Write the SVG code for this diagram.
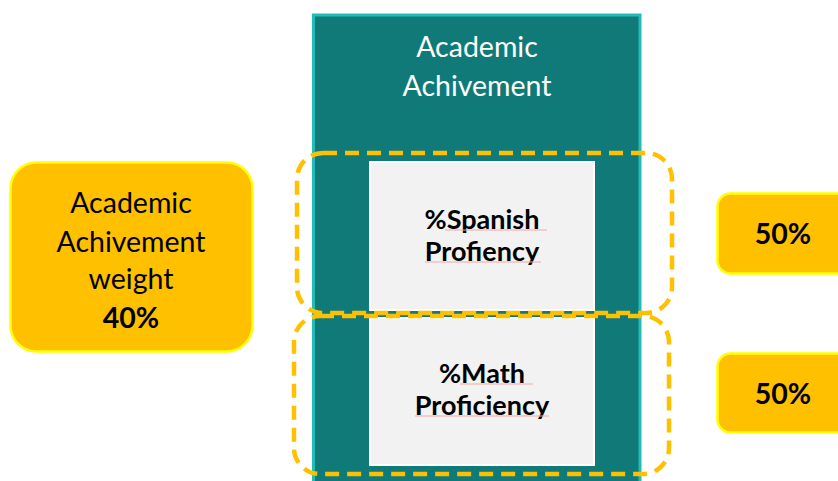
<svg xmlns="http://www.w3.org/2000/svg" width="838" height="481" viewBox="0 0 838 481">
<style>
.t{font-family:Lato,"Open Sans","Liberation Sans",sans-serif;text-anchor:middle}
.w{fill:#ffffff;font-size:28.5px}
.k{fill:#000000;font-size:28.5px}
.b{fill:#000000;font-size:27px;font-weight:bold}
.p{fill:#000000;font-size:28.5px;font-weight:bold}
.gold{fill:#ffc000;stroke:#ffff00;stroke-width:2.5}
.dash{fill:none;stroke:#ffc000;stroke-width:4.5;stroke-dasharray:14 8}
.inner{fill:#f2f2f2;stroke:#ffffff;stroke-width:2}
.sq{stroke:#f4a6a6;stroke-width:1}
</style>
<rect width="838" height="481" fill="#ffffff"/>
<g id="academic-achievement">
<rect x="313.5" y="15" width="326.5" height="470" fill="#0f7a78" stroke="#20bdb8" stroke-width="3"/>
<text class="t w" x="477" y="57">Academic</text>
<text class="t w" x="477" y="96">Achivement</text>
</g>
<g id="spanish">
<rect class="inner" x="370" y="162" width="224" height="148"/>
<text class="t b" x="482" y="229">%Spanish</text>
<text class="t b" x="482" y="261">Profiency</text>
<line class="sq" x1="445" y1="230" x2="547" y2="230"/>
<line class="sq" x1="425" y1="262" x2="541" y2="262"/>
</g>
<g id="math">
<rect class="inner" x="370" y="318" width="224" height="147"/>
<text class="t b" x="482" y="383">%Math</text>
<text class="t b" x="482" y="415">Proficiency</text>
<line class="sq" x1="460" y1="384" x2="533" y2="384"/>
<line class="sq" x1="415" y1="416" x2="549" y2="416"/>
</g>
<g id="spanish-group">
<rect class="dash" x="297" y="153" width="375" height="160" rx="26"/>
</g>
<g id="math-group">
<rect class="dash" x="294" y="316" width="375" height="158" rx="26"/>
</g>
<g id="weight">
<rect class="gold" x="10.5" y="162.5" width="242" height="189" rx="26"/>
<text class="t k" x="131" y="213">Academic</text>
<text class="t k" x="131" y="252">Achivement</text>
<text class="t k" x="131" y="289">weight</text>
<text class="t p" x="131" y="328">40%</text>
</g>
<g id="spanish-weight">
<rect class="gold" x="717.5" y="193.5" width="140" height="80" rx="13"/>
<text class="t p" x="783" y="244">50%</text>
</g>
<g id="math-weight">
<rect class="gold" x="717.5" y="353.5" width="140" height="79" rx="13"/>
<text class="t p" x="783" y="404">50%</text>
</g>
<g id="connectors"></g>
</svg>
